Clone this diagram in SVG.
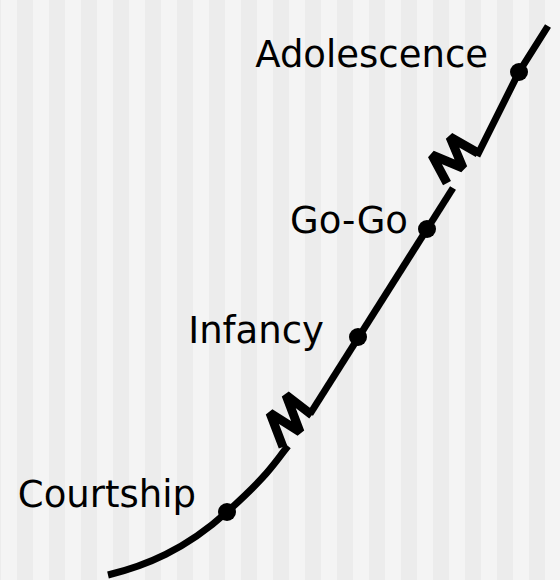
<svg xmlns="http://www.w3.org/2000/svg" width="560" height="580" viewBox="0 0 560 580">
  <style>
    .lbl { font-family: "DejaVu Sans", Verdana, sans-serif; font-size: 37px; fill: #000; text-anchor: end; }
    .ln { fill: none; stroke: #000; stroke-width: 7; stroke-linejoin: miter; stroke-linecap: butt; }
    .zz { fill: none; stroke: #000; stroke-width: 9; stroke-linejoin: bevel; stroke-linecap: butt; }
    .dot { fill: #000; }
  </style>
  <defs>
    <pattern id="stripes" patternUnits="userSpaceOnUse" x="1" y="0" width="32" height="580">
      <rect x="0" y="0" width="16" height="580" fill="#f4f4f4"/>
      <rect x="16" y="0" width="16" height="580" fill="#ececec"/>
    </pattern>
  </defs>
  <rect x="0" y="0" width="560" height="580" fill="url(#stripes)"/>

  <g id="connectors">
    <path class="ln" d="M108,575 C145,566 185,550 227,512 S272,466 288,446"/>
    <polyline class="zz" points="312,415 286,395 300,432 270,413 283,447"/>
    <path class="ln" d="M310,414 L453,188"/>
    <polyline class="zz" points="478,153 450,137 463,168 432,155 447,183"/>
    <path class="ln" d="M477,156 L519,72 L548,26"/>
  </g>

  <g id="courtship">
    <circle class="dot" cx="227" cy="512" r="9"/>
    <text class="lbl" x="196" y="507">Courtship</text>
  </g>
  <g id="infancy">
    <circle class="dot" cx="358" cy="337" r="9"/>
    <text class="lbl" x="324" y="343">Infancy</text>
  </g>
  <g id="gogo">
    <circle class="dot" cx="427" cy="229" r="9"/>
    <text class="lbl" x="408" y="233">Go-Go</text>
  </g>
  <g id="adolescence">
    <circle class="dot" cx="519" cy="72" r="9"/>
    <text class="lbl" x="488" y="67">Adolescence</text>
  </g>
</svg>
